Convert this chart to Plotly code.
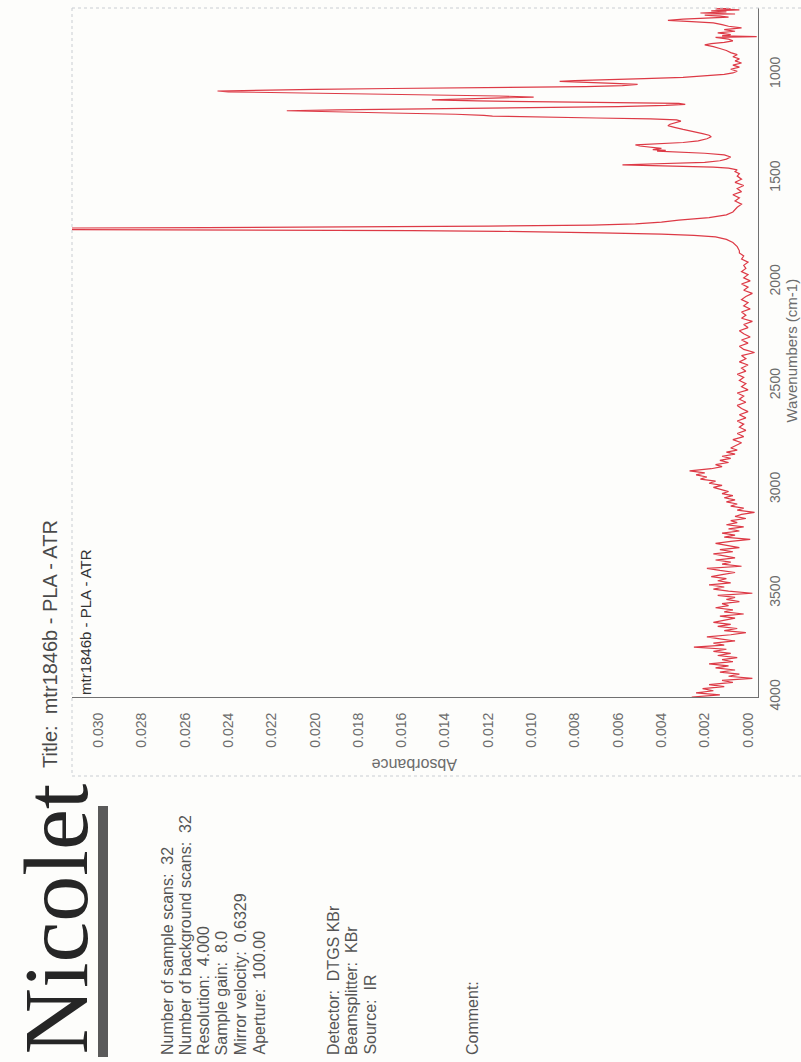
import plotly.graph_objects as go

# ---------------------------------------------------------------------------
# FTIR-ATR spectrum of PLA (sample mtr1846b), absorbance vs wavenumber.
# The printout is laid out in portrait: wavenumber runs up the right-hand
# axis (4000 at the bottom), absorbance grows towards the left.
# ---------------------------------------------------------------------------

# O-H / noisy high-wavenumber region
wn_high = [4000, 3990, 3980, 3970, 3960, 3950, 3940, 3930, 3920, 3910,
           3900, 3890, 3880, 3870, 3860, 3850, 3840, 3830, 3820, 3810,
           3800, 3790, 3780, 3770, 3760, 3750, 3740, 3730, 3720, 3710,
           3700, 3690, 3680, 3670, 3660, 3650, 3640, 3630, 3620, 3610,
           3600, 3590, 3580, 3570, 3560, 3550, 3540, 3530, 3520, 3510,
           3500, 3490, 3480, 3470, 3460, 3450, 3440, 3430, 3420, 3410,
           3400, 3390, 3380, 3370, 3360, 3350, 3340, 3330, 3320, 3310,
           3300, 3290, 3280, 3270, 3260, 3250, 3240, 3230, 3220, 3210,
           3200, 3190, 3180, 3170, 3160, 3150, 3140, 3130, 3120, 3110,
           3100, 3090, 3080, 3070, 3060, 3050, 3040, 3030, 3020, 3010]
abs_high = [0.0026, 0.0013, 0.0024, 0.0016, 0.0021, 0.0011, 0.0018, 0.0007, 0.0012, -0.0002,
            0.0009, 0.0004, 0.0013, 0.0006, 0.0015, 0.0009, 0.0018, 0.0007, 0.0012, 0.0005,
            0.0014, 0.0008, 0.0016, 0.0010, 0.0025, 0.0011, 0.0016, 0.0006, 0.0013, 0.0019,
            0.0008, 0.0001, 0.0011, 0.0005, 0.0014, 0.0008, 0.0016, 0.0010, 0.0006, 0.0013,
            0.0002, 0.0011, 0.0007, 0.0015, 0.0009, 0.0012, 0.0004, 0.0010, 0.0006, 0.0014,
            -0.0002, 0.0009, 0.0016, 0.0011, 0.0018, 0.0008, 0.0014, 0.0010, 0.0017, 0.0012,
            0.0006, 0.0013, 0.0019, 0.0003, 0.0012, 0.0008, 0.0015, 0.0006, 0.0011, 0.0016,
            0.0007, 0.0013, 0.0004, 0.0010, 0.0015, 0.0008, -0.0001, 0.0011, 0.0006, 0.0012,
            0.0004, 0.0009, 0.0002, 0.0010, 0.0005, 0.0008, 0.0001, 0.0006, 0.0003, -0.0003,
            0.0005, 0.0002, 0.0008, 0.0005, 0.0010, 0.0006, 0.0011, 0.0007, 0.0012, 0.0009]

# C-H stretching band
wn_ch = [3000, 2990, 2980, 2970, 2960, 2950, 2940, 2930, 2920, 2910, 2900,
         2890, 2880, 2870, 2860, 2850, 2840, 2830, 2820, 2810, 2800]
abs_ch = [0.0013, 0.0016, 0.0012, 0.0018, 0.0015, 0.0022, 0.0019, 0.0024, 0.0020, 0.0027, 0.0017,
          0.0012, 0.0015, 0.0009, 0.0013, 0.0008, 0.0012, 0.0006, 0.0010, 0.0005, 0.0008]

# flat baseline between the C-H and C=O bands
wn_mid = [2790, 2775, 2760, 2745, 2730, 2715, 2700, 2685, 2670, 2655, 2640,
          2625, 2610, 2595, 2580, 2565, 2550, 2535, 2520, 2505, 2490, 2475,
          2460, 2445, 2430, 2415, 2400, 2385, 2370, 2355, 2340, 2325, 2310,
          2295, 2280, 2265, 2250, 2235, 2220, 2205, 2190, 2175, 2160, 2145,
          2130, 2115, 2100, 2085, 2070, 2055, 2040, 2025, 2010, 1995, 1980,
          1965, 1950, 1935, 1920, 1905, 1890, 1875]
abs_mid = [0.0006, 0.0003, 0.0007, 0.0002, 0.0005, 0.0001, 0.0004, 0.0002, 0.0005, 0.0001, 0.0004,
           0.0000, 0.0003, 0.0005, 0.0001, 0.0004, 0.0002, 0.0005, 0.0000, 0.0003, 0.0001, 0.0004,
           0.0002, 0.0005, 0.0001, 0.0003, 0.0000, 0.0004, 0.0001, 0.0003, -0.0003, 0.0002, 0.0004,
           0.0000, 0.0003, -0.0001, 0.0002, 0.0004, 0.0000, 0.0002, -0.0002, 0.0003, 0.0001, 0.0003,
           -0.0001, 0.0002, 0.0000, 0.0003, 0.0001, -0.0002, 0.0002, 0.0000, 0.0003, -0.0001, 0.0002,
           0.0000, 0.0003, 0.0001, 0.0002, 0.0000, 0.0003, 0.0002]

# ester C=O stretch (runs off the top of the absorbance scale)
wn_carbonyl = [1860, 1850, 1830, 1810, 1795, 1783, 1776, 1770, 1764, 1760, 1756, 1753,
               1750, 1747, 1744, 1741, 1738, 1735, 1731, 1726, 1720, 1712, 1702, 1690,
               1677, 1663, 1650]
abs_carbonyl = [0.0004, 0.0004, 0.0005, 0.0007, 0.0010, 0.0015, 0.0025, 0.0040, 0.0068, 0.0085, 0.0115, 0.0155,
                0.0230, 0.0330, 0.0410, 0.0340, 0.0250, 0.0175, 0.0120, 0.0072, 0.0052, 0.0040, 0.0032, 0.0018,
                0.0010, 0.0007, 0.0006]

# fingerprint region
wn_finger = [1640, 1625, 1610, 1595, 1580, 1565, 1550, 1535, 1520, 1505, 1490, 1478,
             1468, 1460, 1452, 1447, 1443, 1439, 1436, 1433, 1429, 1424, 1416, 1408,
             1398, 1388, 1380, 1375, 1370, 1366, 1362, 1356, 1350, 1345, 1340, 1335,
             1328, 1320, 1310, 1300, 1293, 1285, 1275, 1265, 1255, 1247, 1240, 1232,
             1225, 1219, 1214, 1210, 1206, 1201, 1197, 1192, 1186, 1180, 1175, 1171,
             1166, 1161, 1155, 1149, 1144, 1140, 1136, 1132, 1128, 1123, 1118, 1113,
             1109, 1104, 1099, 1094, 1089, 1084, 1080, 1076, 1072, 1068, 1064, 1059,
             1054, 1048, 1043, 1038, 1034, 1030, 1025, 1020, 1014, 1007, 1000, 993,
             985, 975, 965, 955, 945, 935, 925, 915, 905, 895, 885, 875,
             866, 858, 852, 846, 838, 830, 822, 818, 814, 808, 800, 792,
             784, 776, 768, 760, 752, 746, 740, 734, 729, 724, 719, 714,
             709, 704, 699, 694, 689, 684, 680]
abs_finger = [0.0005, 0.0003, 0.0006, 0.0004, 0.0007, 0.0003, 0.0005, 0.0002, 0.0006, 0.0003, 0.0005, 0.0004,
              0.0006, 0.0005, 0.0009, 0.0016, 0.0030, 0.0048, 0.0058, 0.0050, 0.0033, 0.0020, 0.0013, 0.0010,
              0.0008, 0.0011, 0.0020, 0.0032, 0.0042, 0.0038, 0.0044, 0.0040, 0.0046, 0.0050, 0.0052, 0.0042,
              0.0030, 0.0023, 0.0019, 0.0017, 0.0018, 0.0021, 0.0026, 0.0030, 0.0034, 0.0037, 0.0036, 0.0033,
              0.0031, 0.0033, 0.0045, 0.0070, 0.0095, 0.0118, 0.0122, 0.0135, 0.0165, 0.0195, 0.0213, 0.0190,
              0.0140, 0.0095, 0.0060, 0.0038, 0.0029, 0.0032, 0.0055, 0.0090, 0.0125, 0.0146, 0.0130, 0.0110,
              0.0099, 0.0115, 0.0146, 0.0180, 0.0215, 0.0240, 0.0245, 0.0225, 0.0200, 0.0165, 0.0110, 0.0075,
              0.0058, 0.0051, 0.0062, 0.0078, 0.0087, 0.0080, 0.0068, 0.0048, 0.0030, 0.0018, 0.0011, 0.0007,
              0.0005, 0.0008, 0.0004, 0.0007, 0.0003, 0.0006, 0.0004, 0.0007, 0.0005, 0.0008, 0.0010, 0.0013,
              0.0016, 0.0020, 0.0017, 0.0011, 0.0007, 0.0009, 0.0015, -0.0004, 0.0012, 0.0008, 0.0014, 0.0006,
              0.0011, 0.0003, 0.0009, 0.0012, 0.0016, 0.0026, 0.0037, 0.0030, 0.0016, 0.0009, 0.0013, 0.0020,
              0.0006, 0.0022, 0.0010, 0.0017, 0.0004, 0.0015, 0.0008]

wavenumber = wn_high + wn_ch + wn_mid + wn_carbonyl + wn_finger
absorbance = abs_high + abs_ch + abs_mid + abs_carbonyl + abs_finger

abs_ticks = [i * 0.002 for i in range(16)]
abs_tick_text = ["%.3f" % v for v in abs_ticks]
wn_ticks = [1000, 1500, 2000, 2500, 3000, 3500, 4000]
wn_tick_text = [str(v) for v in wn_ticks]

info_lines = ["Number of sample scans:  32",
              "Number of background scans:  32",
              "Resolution:  4.000",
              "Sample gain:  8.0",
              "Mirror velocity:  0.6329",
              "Aperture:  100.00"]
optics_lines = ["Detector:  DTGS KBr",
                "Beamsplitter:  KBr",
                "Source:  IR"]

# ---------------------------------------------------------------------------
W, H = 801, 1062
PL, PR, PT, PB = 72, 758, 8, 697   # plot area in page pixels


def fx(p):
    return (p - PL) / (PR - PL)


def fy(p):
    return (PB - p) / (PB - PT)


SANS = "Liberation Sans, Arial, sans-serif"
RED = "rgb(221,58,70)"

fig = go.Figure()
fig.add_trace(go.Scatter(
    x=absorbance, y=wavenumber, mode="lines",
    line=dict(color=RED, width=1.2), hoverinfo="skip", showlegend=False))

fig.update_layout(
    width=W, height=H,
    margin=dict(l=PL, r=W - PR, t=PT, b=H - PB, pad=0),
    paper_bgcolor="#fdfdfb", plot_bgcolor="#fdfdfb",
    showlegend=False,
    xaxis=dict(range=[0.03122, -0.00046], tickvals=abs_ticks, ticktext=abs_tick_text,
               tickangle=-90, tickfont=dict(family=SANS, size=14, color="#6c6c6c"),
               showline=True, linecolor="#707070", linewidth=1, mirror=False,
               showgrid=False, zeroline=False, ticks="", ticklabelstandoff=9),
    yaxis=dict(range=[4000, 680], side="right", tickvals=wn_ticks, ticktext=wn_tick_text,
               tickangle=-90, tickfont=dict(family=SANS, size=14, color="#6c6c6c"),
               showline=True, linecolor="#707070", linewidth=1, mirror=False,
               showgrid=False, zeroline=False, ticks="", ticklabelstandoff=4),
)

# page frame (dotted, light)
frame = dict(color="#c9cdd2", width=1, dash="dot")
shapes = [
    dict(type="line", xref="paper", yref="paper", x0=fx(PL), x1=fx(W + 5), y0=fy(PT), y1=fy(PT), line=frame),
    dict(type="line", xref="paper", yref="paper", x0=fx(PL), x1=fx(PL), y0=fy(PT), y1=fy(776), line=frame),
    dict(type="line", xref="paper", yref="paper", x0=fx(PL), x1=fx(W + 5), y0=fy(776), y1=fy(776), line=frame),
    # underline bar of the logo
    dict(type="rect", xref="paper", yref="paper", x0=fx(98), x1=fx(108), y0=fy(806), y1=fy(1057),
         fillcolor="#5a5a5a", line=dict(width=0)),
]
fig.update_layout(shapes=shapes)


def note(text, xc, yb, size, color, angle=-90, family=SANS, xanchor="center", yanchor="bottom"):
    fig.add_annotation(text=text, xref="paper", yref="paper", x=fx(xc), y=fy(yb),
                       xanchor=xanchor, yanchor=yanchor, textangle=angle, showarrow=False,
                       font=dict(family=family, size=size, color=color))


# axis titles
note("Wavenumbers (cm-1)", 801, 350, 15, "#6c6c6c", xanchor="right", yanchor="middle")
note("Absorbance", 415, 765, 16, "#6c6c6c", angle=180, yanchor="middle")

# spectrum title and curve label
note("Title:  mtr1846b - PLA - ATR", 50, 770, 20, "#4a4a4a")
note("mtr1846b - PLA - ATR", 85, 697, 15, "#333333")

# instrument logo
note("Nicolet", 55, 1057, 92, "#262626", family="Liberation Serif, Times New Roman, serif")

# acquisition parameters
for i, t in enumerate(info_lines):
    note(t, 167 + i * 18.3, 1057, 16, "#555555")
for i, t in enumerate(optics_lines):
    note(t, 333 + i * 18.3, 1057, 16, "#555555")
note("Comment:", 472, 1057, 16, "#555555")

fig.write_html("out.html")
